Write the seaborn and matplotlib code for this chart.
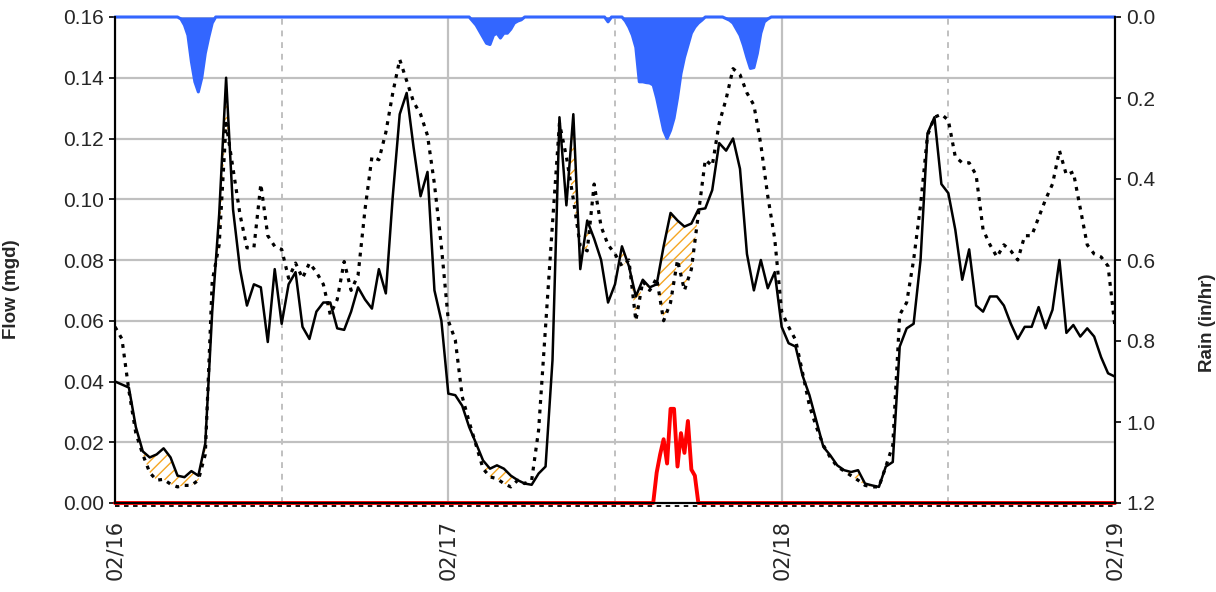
import numpy as np
import pandas as pd
import matplotlib
matplotlib.use("Agg")
import matplotlib.pyplot as plt
import matplotlib.dates as mdates
import matplotlib.transforms as mtransforms
from matplotlib.ticker import FormatStrFormatter
import seaborn as sns

# --- data ----------------------------------------------------------------
start = pd.Timestamp("2024-02-16")
n_days = 3

# 30-minute flow samples from 02/16 00:00 to 02/19 00:00 (mgd)
observed_flow = [
    0.040, 0.039, 0.038, 0.025, 0.017, 0.015, 0.016, 0.018, 0.015, 0.009,
    0.0085, 0.0105, 0.009, 0.0196, 0.063, 0.095, 0.140, 0.0966, 0.077, 0.065,
    0.072, 0.071, 0.053, 0.077, 0.059, 0.072, 0.076, 0.058, 0.054, 0.063,
    0.066, 0.066, 0.0575, 0.057, 0.063, 0.071, 0.067, 0.064, 0.077, 0.069,
    0.101, 0.128, 0.135, 0.117, 0.101, 0.109, 0.070, 0.060, 0.036, 0.0355,
    0.032, 0.025, 0.0196, 0.014, 0.0113, 0.0124, 0.0113, 0.009, 0.0075, 0.0064,
    0.006, 0.0097, 0.012, 0.047, 0.127, 0.098, 0.128, 0.077, 0.093, 0.087,
    0.080, 0.066, 0.072, 0.0845, 0.078, 0.068, 0.0735, 0.071, 0.072, 0.0845,
    0.0955, 0.093, 0.091, 0.092, 0.0966, 0.097, 0.103, 0.1185, 0.116, 0.120,
    0.110, 0.082, 0.070, 0.080, 0.0707, 0.076, 0.058, 0.0526, 0.0515, 0.042,
    0.0355, 0.027, 0.0185, 0.0157, 0.0124, 0.0108, 0.0102, 0.0108, 0.0064, 0.0058,
    0.0053, 0.012, 0.0135, 0.0515, 0.0575, 0.059, 0.080, 0.1217, 0.127, 0.105,
    0.102, 0.090, 0.0735, 0.0835, 0.065, 0.063, 0.068, 0.068, 0.065, 0.059,
    0.054, 0.058, 0.058, 0.0645, 0.0575, 0.0636, 0.080, 0.056, 0.0586, 0.0548,
    0.0575, 0.0548, 0.048, 0.0427, 0.0416,
]
predicted_flow = [
    0.058, 0.054, 0.037, 0.023, 0.016, 0.010, 0.0075, 0.0078, 0.0062, 0.0053,
    0.0058, 0.0058, 0.0075, 0.016, 0.073, 0.085, 0.125, 0.110, 0.095, 0.084,
    0.084, 0.105, 0.088, 0.0845, 0.0835, 0.074, 0.079, 0.074, 0.079, 0.076,
    0.072, 0.062, 0.067, 0.0795, 0.070, 0.075, 0.0966, 0.114, 0.113, 0.122,
    0.135, 0.146, 0.139, 0.132, 0.128, 0.121, 0.105, 0.0845, 0.060, 0.0537,
    0.035, 0.0267, 0.019, 0.0113, 0.0086, 0.008, 0.0064, 0.0053, 0.0075, 0.0064,
    0.0075, 0.024, 0.058, 0.092, 0.125, 0.114, 0.100, 0.0845, 0.083, 0.105,
    0.091, 0.085, 0.082, 0.078, 0.080, 0.060, 0.073, 0.070, 0.074, 0.060,
    0.066, 0.080, 0.070, 0.077, 0.095, 0.113, 0.111, 0.125, 0.133, 0.143,
    0.141, 0.135, 0.131, 0.118, 0.101, 0.087, 0.063, 0.058, 0.0537, 0.043,
    0.032, 0.025, 0.019, 0.015, 0.012, 0.0105, 0.009, 0.0075, 0.0058, 0.0053,
    0.0053, 0.012, 0.019, 0.062, 0.066, 0.080, 0.098, 0.121, 0.127, 0.128,
    0.126, 0.114, 0.112, 0.112, 0.108, 0.090, 0.085, 0.081, 0.085, 0.083,
    0.080, 0.088, 0.088, 0.094, 0.0999, 0.105, 0.116, 0.108, 0.109, 0.097,
    0.085, 0.082, 0.081, 0.078, 0.058,
]

# red trace (overflow), hours after 02/16 00:00
overflow_hours = [0, 38.5, 38.75, 39.0, 39.25, 39.5, 39.75, 40.0, 40.25, 40.5,
                  40.75, 41.0, 41.25, 41.5, 41.75, 42.0, 72]
overflow_flow = [0, 0, 0, 0.010, 0.016, 0.021, 0.013, 0.031, 0.031, 0.012,
                 0.023, 0.0165, 0.027, 0.011, 0.009, 0, 0]

# rainfall intensity (in/hr), hours after 02/16 00:00
rain_hours = [
    0, 4.5, 4.75, 5.0, 5.25, 5.5, 5.75, 6.0, 6.25, 6.5, 6.75, 7.0, 7.25,
    25.5, 25.75, 26.0, 26.25, 26.5, 26.75, 27.0, 27.25, 27.5, 27.75, 28.0,
    28.25, 28.5, 28.75, 29.0, 29.25, 29.5,
    35.25, 35.5, 35.75,
    36.5, 36.75, 37.0, 37.25, 37.5, 37.75, 38.0, 38.25, 38.5, 38.75, 39.0,
    39.25, 39.5, 39.75, 40.0, 40.25, 40.5, 40.75, 41.0, 41.25, 41.5, 41.75,
    42.0, 42.25, 42.5,
    43.75, 44.0, 44.25, 44.5, 44.75, 45.0, 45.25, 45.5, 45.75, 46.0, 46.25,
    46.5, 46.75, 47.0, 47.25,
    72,
]
rain_inhr = [
    0, 0, 0.005, 0.02, 0.045, 0.11, 0.16, 0.185, 0.15, 0.09, 0.05, 0.015, 0,
    0, 0.01, 0.02, 0.035, 0.05, 0.065, 0.068, 0.045, 0.04, 0.052, 0.04,
    0.04, 0.03, 0.015, 0.01, 0.007, 0,
    0, 0.012, 0,
    0, 0.01, 0.025, 0.045, 0.075, 0.16, 0.16, 0.162, 0.163, 0.168, 0.2,
    0.24, 0.28, 0.30, 0.28, 0.25, 0.20, 0.14, 0.10, 0.07, 0.04, 0.025,
    0.015, 0.008, 0,
    0, 0.004, 0.008, 0.015, 0.03, 0.045, 0.07, 0.10, 0.127, 0.125, 0.09,
    0.04, 0.012, 0.005, 0,
    0,
]

flow_ticks = [0.00, 0.02, 0.04, 0.06, 0.08, 0.10, 0.12, 0.14, 0.16]
rain_ticks = [0.0, 0.2, 0.4, 0.6, 0.8, 1.0, 1.2]

# --- frames ---------------------------------------------------------------
flow_df = pd.DataFrame({
    "time": start + pd.to_timedelta(np.arange(len(observed_flow)) * 0.5, unit="h"),
    "observed": observed_flow,
    "predicted": predicted_flow,
})
overflow_df = pd.DataFrame({
    "time": start + pd.to_timedelta(overflow_hours, unit="h"),
    "flow": overflow_flow,
})
rain_df = pd.DataFrame({
    "time": start + pd.to_timedelta(rain_hours, unit="h"),
    "rain": rain_inhr,
})

# --- plot -----------------------------------------------------------------
sns.set_style("white")
plt.rcParams["font.family"] = ["Liberation Sans", "DejaVu Sans"]
plt.rcParams["hatch.linewidth"] = 1.0

GRID = "#c0c0c0"
RAIN = "#3366ff"
HATCH = "#f5a623"

fig = plt.figure(figsize=(12.16, 5.92), dpi=100)
ax = fig.add_axes([115 / 1216, 1 - 503 / 592, 1000 / 1216, 486 / 592])
ax2 = ax.twinx()

# zero-line of the dotted series, just under the axis
zero_tr = mtransforms.offset_copy(ax.get_yaxis_transform(), fig=fig, y=-3, units="dots")
ax.plot([0, 1], [0, 0], transform=zero_tr, color="black", lw=1.3,
        ls=(0, (2.5, 2.5)), clip_on=False, zorder=1)

ax.fill_between(flow_df["time"], flow_df["predicted"], flow_df["observed"],
                where=flow_df["observed"] > flow_df["predicted"], interpolate=True,
                facecolor="none", edgecolor=HATCH, hatch="///", linewidth=0, zorder=2)
sns.lineplot(data=flow_df, x="time", y="predicted", ax=ax, color="black",
             lw=2.3, linestyle=(0, (1.2, 1.8)), zorder=3)
sns.lineplot(data=flow_df, x="time", y="observed", ax=ax, color="black",
             lw=1.8, zorder=4)
sns.lineplot(data=overflow_df, x="time", y="flow", ax=ax, color="#ff0000",
             lw=2.8, zorder=5, clip_on=False)

ax.set_xlim(start, start + pd.Timedelta(days=n_days))
ax.set_ylim(0, 0.16)
ax.set_yticks(flow_ticks)
ax.yaxis.set_major_formatter(FormatStrFormatter("%.2f"))
ax.xaxis.set_major_locator(mdates.DayLocator())
ax.xaxis.set_minor_locator(mdates.HourLocator(byhour=[12]))
ax.xaxis.set_major_formatter(mdates.DateFormatter("%m/%d"))

ax.grid(axis="y", color=GRID, lw=1.6)
ax.grid(axis="x", which="major", color=GRID, lw=1.6)
ax.grid(axis="x", which="minor", color=GRID, lw=1.4, ls=(0, (3, 3)))
ax.set_axisbelow(True)

# rain hangs down from the top on an inverted axis
ax2.fill_between(rain_df["time"], 0, rain_df["rain"], color=RAIN, lw=0)
sns.lineplot(data=rain_df, x="time", y="rain", ax=ax2, color=RAIN, lw=2.2,
             clip_on=False)
ax2.set_ylim(1.2, 0)
ax2.set_yticks(rain_ticks)
ax2.yaxis.set_major_formatter(FormatStrFormatter("%.1f"))
ax2.grid(False)

for a in (ax, ax2):
    for side in ("left", "right", "bottom"):
        a.spines[side].set_color("black")
        a.spines[side].set_linewidth(1.5)
    a.spines["top"].set_visible(False)

ax.tick_params(axis="y", which="major", direction="out", length=4, width=1.2,
               color="black", labelsize=15, pad=4)
ax.tick_params(axis="x", which="major", direction="out", length=6, width=1.2,
               color="black", pad=6)
ax.tick_params(axis="x", which="minor", length=0)
ax2.tick_params(axis="y", direction="out", length=4, width=1.2, color="black",
                labelsize=15, pad=4)
for lab in ax.get_xticklabels():
    lab.set_family("DejaVu Sans")
    lab.set_fontsize(15)
    lab.set_rotation(90)

ax.set_xlabel("")
ax.set_ylabel("Flow (mgd)", fontsize=13.5, fontweight="bold")
ax2.set_ylabel("Rain (in/hr)", fontsize=13.5, fontweight="bold")
ax.yaxis.set_label_coords(-0.095, 0.44)
ax2.yaxis.set_label_coords(1.084, 0.37)

fig.savefig("out.png", dpi=100)
